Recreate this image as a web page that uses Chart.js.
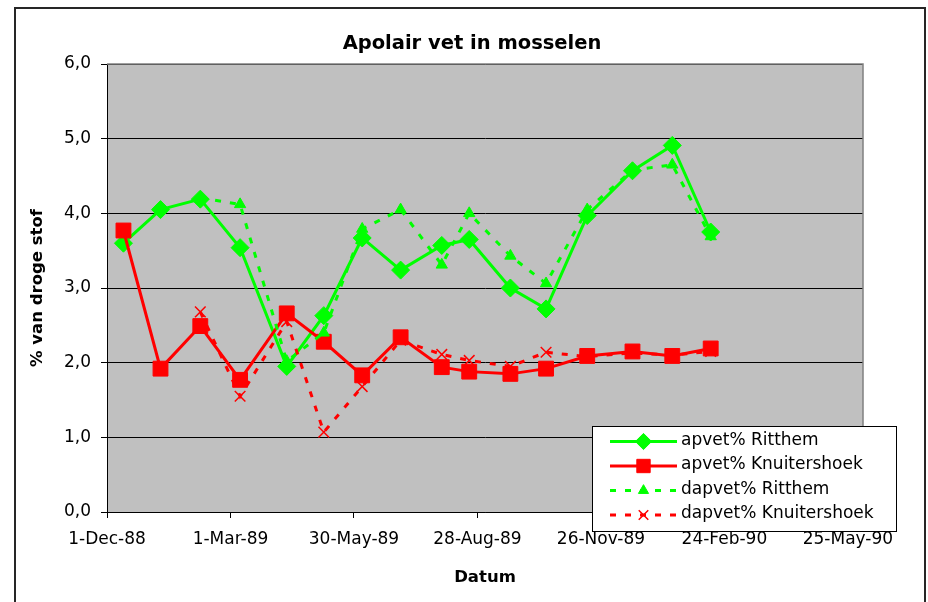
<!DOCTYPE html>
<html><head><meta charset="utf-8">
<script src="https://cdn.jsdelivr.net/npm/chart.js@4/dist/chart.umd.min.js"></script>
<style>html,body{margin:0;padding:0;background:#fff}#wrap{width:928px;height:602px;position:relative}</style>
</head><body><div id="wrap"><canvas id="c"></canvas></div>
<script>
const chartTitle = 'Apolair vet in mosselen';
const xAxisTitle = 'Datum';
const yAxisTitle = '% van droge stof';
const sampleDates = ['1988-12-13','1989-01-09','1989-02-07','1989-03-08','1989-04-11','1989-05-08','1989-06-05','1989-07-03','1989-08-02','1989-08-22','1989-09-21','1989-10-17','1989-11-16','1989-12-19','1990-01-17','1990-02-14'];
const seriesNames = ['apvet% Ritthem','apvet% Knuitershoek','dapvet% Ritthem','dapvet% Knuitershoek'];
const apvetRitthem = [3.60,4.05,4.19,3.54,1.95,2.63,3.67,3.24,3.57,3.65,3.00,2.72,3.97,4.57,4.91,3.75];
const apvetKnuitershoek = [3.77,1.92,2.49,1.77,2.66,2.28,1.83,2.34,1.94,1.88,1.85,1.92,2.09,2.15,2.09,2.19];
const dapvetRitthem = [null,null,4.21,4.12,2.02,2.40,3.79,4.05,3.31,4.00,3.43,3.06,4.05,4.58,4.65,3.69];
const dapvetKnuitershoek = [null,null,2.68,1.55,2.55,1.07,1.68,2.30,2.11,2.03,1.95,2.14,2.08,2.13,2.10,2.15];
const xTickDates = ['1988-12-01','1989-03-01','1989-05-30','1989-08-28','1989-11-26','1990-02-24','1990-05-25'];
const xTickLabels = ['1-Dec-88','1-Mar-89','30-May-89','28-Aug-89','26-Nov-89','24-Feb-90','25-May-90'];
const xAxisEnd = '1990-06-05';
const yTicks = [0,1,2,3,4,5,6];

const DAY = 86400000;
const origin = Date.UTC(1988, 11, 1);
const toDay = s => { const [y, m, d] = s.split('-').map(Number); return Math.round((Date.UTC(y, m - 1, d) - origin) / DAY); };
const pts = arr => sampleDates.map((d, i) => ({x: toDay(d), y: arr[i]})).filter(p => p.y !== null);

const FONT = 'DejaVu Sans';
const GREEN = '#00FF00', RED = '#FF0000';

const decor = {
  id: 'decor',
  beforeDraw(chart) {
    const {ctx, chartArea: a} = chart;
    ctx.save();
    ctx.fillStyle = '#fff';
    ctx.fillRect(0, 0, chart.width, chart.height);
    ctx.fillStyle = '#C0C0C0';
    ctx.fillRect(a.left, a.top, a.right - a.left, a.bottom - a.top);
    ctx.restore();
  },
  beforeDatasetsDraw(chart) {
    const {ctx, chartArea: a} = chart;
    ctx.save();
    ctx.strokeStyle = '#808080';
    ctx.lineWidth = 1.5;
    ctx.beginPath();
    ctx.moveTo(a.left, a.top);
    ctx.lineTo(a.right, a.top);
    ctx.lineTo(a.right, a.bottom);
    ctx.stroke();
    ctx.restore();
  },
  afterDraw(chart) {
    const ctx = chart.ctx;
    ctx.save();
    // outer frame
    ctx.strokeStyle = '#262626';
    ctx.lineWidth = 2;
    ctx.strokeRect(15, 8, 910, 600);
    // title
    ctx.fillStyle = '#000';
    ctx.font = 'bold 19.5px "' + FONT + '"';
    ctx.textAlign = 'center';
    ctx.textBaseline = 'alphabetic';
    ctx.fillText(chartTitle, 472, 48.5);
    // legend
    const bx = 592, by = 426, bw = 304, bh = 105;
    ctx.fillStyle = '#fff';
    ctx.fillRect(bx, by, bw, bh);
    ctx.strokeStyle = '#000';
    ctx.lineWidth = 1;
    ctx.strokeRect(bx + 0.5, by + 0.5, bw, bh);
    const rowY = [441.5, 466, 490.5, 515];
    ctx.font = '17px "' + FONT + '"';
    ctx.textAlign = 'left';
    ctx.textBaseline = 'middle';
    chart.data.datasets.forEach((ds, i) => {
      const y = rowY[i];
      ctx.save();
      ctx.strokeStyle = ds.borderColor;
      ctx.lineWidth = ds.borderWidth;
      ctx.setLineDash(ds.borderDash || []);
      ctx.beginPath();
      ctx.moveTo(610, y);
      ctx.lineTo(677, y);
      ctx.stroke();
      ctx.setLineDash([]);
      ctx.fillStyle = ds.pointBackgroundColor;
      ctx.strokeStyle = ds.pointBorderColor;
      ctx.lineWidth = ds.pointBorderWidth;
      Chart.helpers.drawPoint(ctx, {pointStyle: ds.pointStyle, radius: ds.pointRadius * 0.9, rotation: 0, borderWidth: ds.pointBorderWidth}, 643.5, y);
      ctx.restore();
      ctx.fillStyle = '#000';
      ctx.fillText(ds.label, 681, y - 1);
    });
    ctx.restore();
  }
};

new Chart(document.getElementById('c'), {
  type: 'line',
  data: {
    datasets: [
      {label: seriesNames[0], data: pts(apvetRitthem), borderColor: GREEN, backgroundColor: GREEN, borderWidth: 3,
       pointStyle: 'rectRot', pointRadius: 9, pointBackgroundColor: GREEN, pointBorderColor: GREEN, pointBorderWidth: 1, order: 3},
      {label: seriesNames[1], data: pts(apvetKnuitershoek), borderColor: RED, backgroundColor: RED, borderWidth: 3,
       pointStyle: 'rect', pointRadius: 10.5, pointBackgroundColor: RED, pointBorderColor: RED, pointBorderWidth: 1, order: 2},
      {label: seriesNames[2], data: pts(dapvetRitthem), borderColor: GREEN, backgroundColor: GREEN, borderWidth: 3, borderDash: [6, 9],
       pointStyle: 'triangle', pointRadius: 6.5, pointBackgroundColor: GREEN, pointBorderColor: GREEN, pointBorderWidth: 1, order: 1},
      {label: seriesNames[3], data: pts(dapvetKnuitershoek), borderColor: RED, backgroundColor: RED, borderWidth: 3, borderDash: [6, 9],
       pointStyle: 'crossRot', pointRadius: 7.5, pointBackgroundColor: RED, pointBorderColor: RED, pointBorderWidth: 1.5, order: 0}
    ]
  },
  options: {
    responsive: true,
    maintainAspectRatio: false,
    animation: false,
    events: [],
    layout: {padding: {left: 0, right: 65, top: 64, bottom: 0}},
    elements: {line: {tension: 0, fill: false}},
    plugins: {legend: {display: false}, title: {display: false}, tooltip: {enabled: false}},
    scales: {
      x: {
        type: 'linear', min: 0, max: toDay(xAxisEnd),
        afterBuildTicks: s => { s.ticks = xTickDates.map(d => ({value: toDay(d)})); },
        afterFit: s => { s.height = 90; },
        ticks: {autoSkip: false, maxRotation: 0, minRotation: 0, padding: 11, color: '#000',
          font: {family: FONT, size: 17},
          callback: v => { const i = xTickDates.findIndex(d => toDay(d) === v); return i >= 0 ? xTickLabels[i] : ''; }},
        grid: {drawOnChartArea: false, drawTicks: true, tickLength: 6, color: '#000', lineWidth: 1},
        border: {display: true, color: '#000', width: 1},
        title: {display: true, text: xAxisTitle, color: '#000', font: {family: FONT, size: 16.5, weight: 'bold'}, padding: {top: 0, bottom: 14}}
      },
      y: {
        min: 0, max: 6,
        afterBuildTicks: s => { s.ticks = yTicks.map(v => ({value: v})); },
        afterFit: s => { s.width = 107; },
        ticks: {padding: 10, color: '#000', font: {family: FONT, size: 17},
          callback: v => Number(v).toFixed(1).replace('.', ',')},
        grid: {color: '#000', lineWidth: 1, tickLength: 6, drawTicks: true},
        border: {display: true, color: '#000', width: 1},
        title: {display: true, text: yAxisTitle, color: '#000', font: {family: FONT, size: 16.5, weight: 'bold'}, padding: {top: 28, bottom: 0}}
      }
    }
  },
  plugins: [decor]
});
</script>
</body></html>
